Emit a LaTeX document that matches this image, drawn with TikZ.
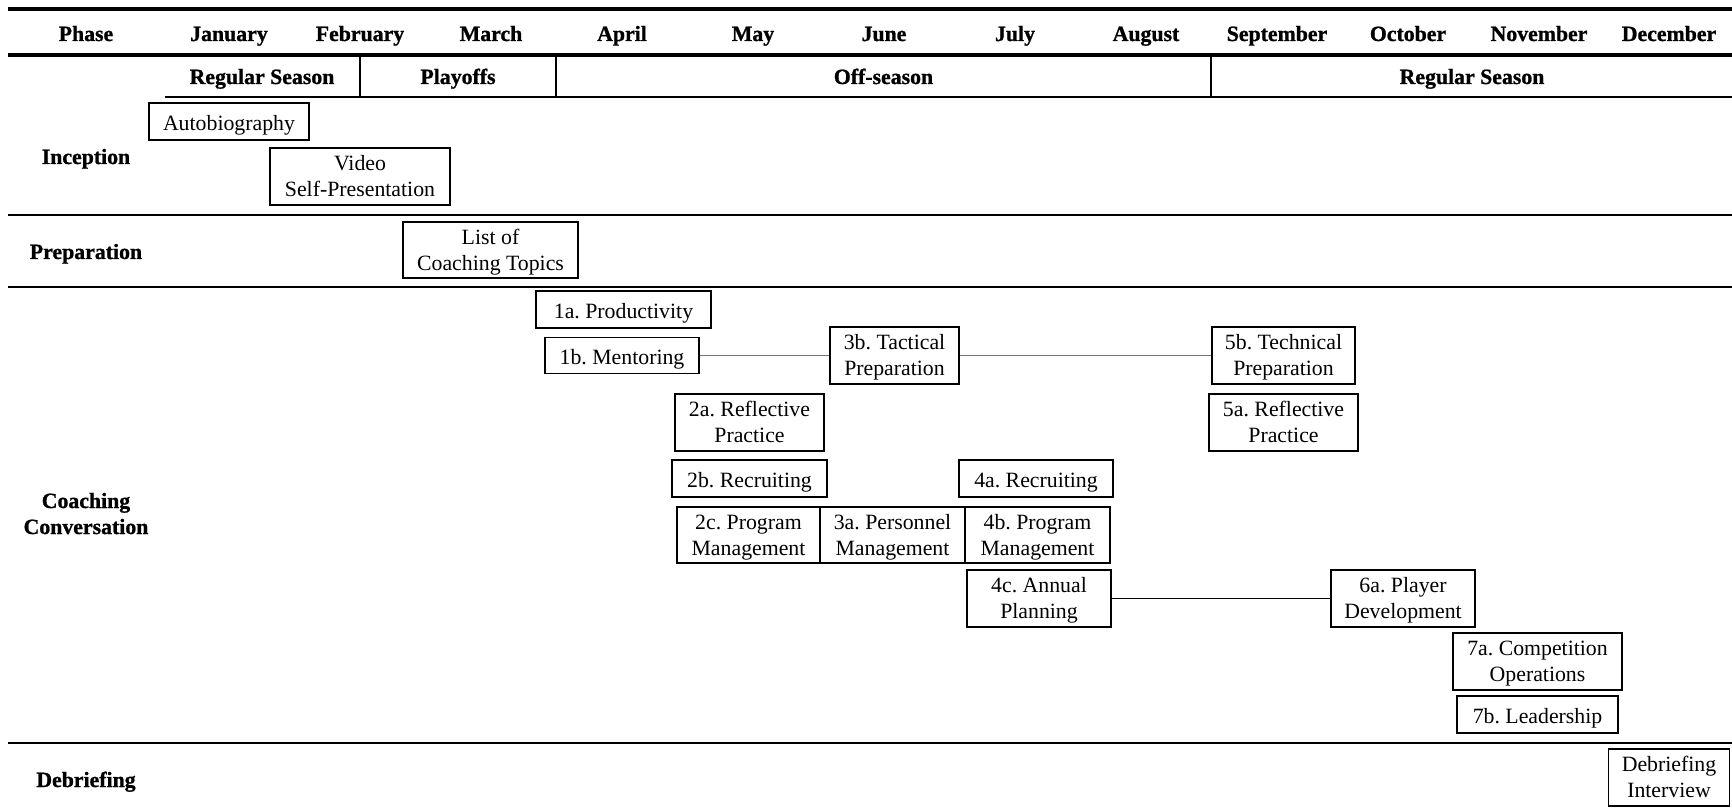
\documentclass[tikz,border=0pt]{standalone}
\usepackage{fontspec}
\setmainfont{Liberation Serif}[BoldFeatures={FakeBold=1}]
\frenchspacing
\begin{document}
\begin{tikzpicture}[x=0.5pt,y=-0.5pt,
  every node/.style={font=\fontsize{10.9}{13}\selectfont},
  hdr/.style={font=\fontsize{10.9}{13}\selectfont\bfseries, align=center, inner sep=0pt, anchor=base},
  box/.style={draw, line width=0.9pt, inner sep=0pt, align=center},
  one/.style={box, minimum height=18.5pt, text height=10.4pt, text depth=1pt},
  two/.style={box, minimum height=28.5pt, text height=21pt, text depth=0.6pt},
  rule/.style={line width=0.9pt},
  thickrule/.style={line width=1.8pt},
  link/.style={line width=0.6pt},
  graylink/.style={line width=0.7pt, draw=black!55}]
\useasboundingbox (0,0) rectangle (1732,812);

% header rules
\draw[thickrule] (8,9) -- (1732,9);
\draw[thickrule] (8,55) -- (1732,55);
\draw[line width=1.1pt] (165,97) -- (1732,97);
\foreach \xx in {360,556,1211} \draw[line width=1.1pt] (\xx,55) -- (\xx,97);
\draw[rule] (8,215) -- (1732,215);
\draw[rule] (8,287) -- (1732,287);
\draw[rule] (8,743) -- (1732,743);

% header texts
\node[hdr] (hphase) at (86,41) {Phase};
\node[hdr] (hjan) at (229,41) {January};
\node[hdr] (hfeb) at (360,41) {February};
\node[hdr] (hmar) at (491,41) {March};
\node[hdr] (hapr) at (622,41) {April};
\node[hdr] (hmay) at (753,41) {May};
\node[hdr] (hjun) at (884,41) {June};
\node[hdr] (hjul) at (1015,41) {July};
\node[hdr] (haug) at (1146,41) {August};
\node[hdr] (hsep) at (1277,41) {September};
\node[hdr] (hoct) at (1408,41) {October};
\node[hdr] (hnov) at (1539,41) {November};
\node[hdr] (hdec) at (1669,41) {December};

% seasons
\node[hdr] (s1) at (262,84) {Regular Season};
\node[hdr] (s2) at (458,84) {Playoffs};
\node[hdr] (s3) at (883.5,84) {Off-season};
\node[hdr] (s4) at (1472,84) {Regular Season};

% phase labels
\node[hdr] (lincep) at (86,164) {Inception};
\node[hdr] (lprep) at (86,259) {Preparation};
\node[hdr] (lcoach) at (86,534) {Coaching\\Conversation};
\node[hdr] (ldeb) at (86,787) {Debriefing};

% boxes
\node[one, minimum width=80pt] (auto) at (229,121.5) {Autobiography};
\node[two, minimum width=90pt] (video) at (360,176.5) {Video\\Self-Presentation};
\node[two, minimum width=87.5pt, minimum height=28pt] (list) at (490.5,250) {List of\\Coaching Topics};

\node[one, minimum width=87.5pt] (p1a) at (623.5,309.5) {1a. Productivity};
\node[one, minimum width=77pt, minimum height=18pt] (p1b) at (622,355.5) {1b. Mentoring};
\node[two, minimum width=64.5pt] (p3b) at (894.5,355.5) {3b. Tactical\\Preparation};
\node[two, minimum width=71.5pt] (p5b) at (1283.5,355.5) {5b. Technical\\Preparation};
\node[two, minimum width=74.5pt] (p2a) at (749.5,422.5) {2a. Reflective\\Practice};
\node[two, minimum width=74.5pt] (p5a) at (1283.5,422.5) {5a. Reflective\\Practice};
\node[one, minimum width=77.5pt] (p2b) at (749.5,478.5) {2b. Recruiting};
\node[one, minimum width=77pt] (p4a) at (1036,478.5) {4a. Recruiting};
\node[two, minimum width=71.5pt, minimum height=28pt] (p2c) at (748.5,535) {2c. Program\\Management};
\node[two, minimum width=72.5pt, minimum height=28pt] (p3a) at (892.5,535) {3a. Personnel\\Management};
\node[two, minimum width=72.5pt, minimum height=28pt] (p4b) at (1037.5,535) {4b. Program\\Management};
\node[two, minimum width=72pt] (p4c) at (1039,598.5) {4c. Annual\\Planning};
\node[two, minimum width=72pt] (p6a) at (1403,598.5) {6a. Player\\Development};
\node[two, minimum width=84.5pt] (p7a) at (1537.5,661.5) {7a. Competition\\Operations};
\node[one, minimum width=80.5pt] (p7b) at (1537.5,714.5) {7b. Leadership};
\node[two, minimum width=60.5pt] (deb) at (1669,777.5) {Debriefing\\Interview};

% connectors
\draw[graylink] (p1b) -- (p3b);
\draw[graylink] (p3b) -- (p5b);
\draw[link] (p4c) -- (p6a);
\end{tikzpicture}
\end{document}
